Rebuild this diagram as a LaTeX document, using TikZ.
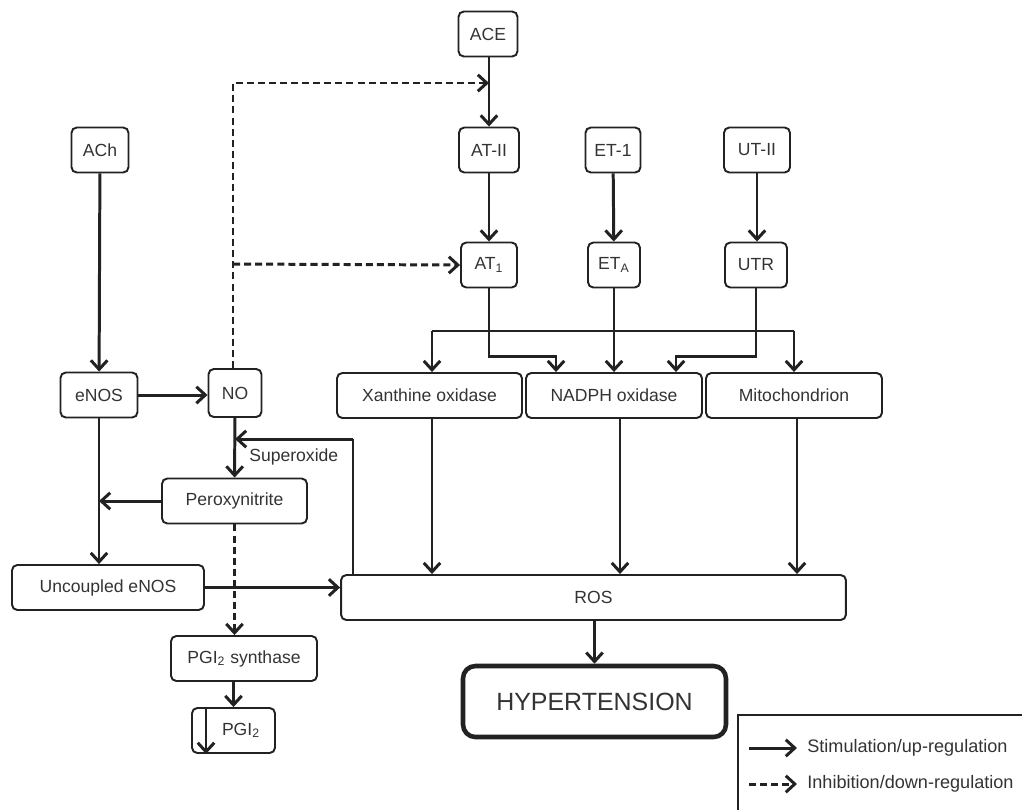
\documentclass[tikz,border=0pt]{standalone}
\usepackage{fontspec}
\setmainfont{Liberation Sans}
\usetikzlibrary{arrows.meta}
\definecolor{inkgray}{HTML}{222222}
\definecolor{txtgray}{HTML}{333333}
\tikzset{
  box/.style={draw=inkgray, rounded corners=3pt, line width=1.1pt, minimum height=0.9cm, inner sep=0pt, font=\fontsize{10}{12}\selectfont, text=txtgray},
  hyp/.style={box, line width=2.6pt, rounded corners=7pt, minimum height=1.42cm, font=\fontsize{14.2}{16}\selectfont},
  stim/.style={-{Straight Barb[length=1.8mm,width=3.3mm]}, draw=inkgray, line width=1.7pt},
  inhib/.style={stim, dash pattern=on 4pt off 2.3pt},
  wire/.style={draw=inkgray, line width=1.5pt},
  lbl/.style={font=\fontsize{10}{12}\selectfont, text=txtgray, inner sep=0pt},
  key/.style={font=\fontsize{10.3}{12}\selectfont, text=txtgray, inner sep=0pt, anchor=west},
  keyframe/.style={draw=inkgray, line width=0.9pt},
}

\begin{document}
\begin{tikzpicture}[x=0.02cm,y=-0.02cm]
  \useasboundingbox (0,0) rectangle (1022,809);
  % receptor agonists
  \node[box, minimum width=1.18cm] (ACE) at (488,34) {ACE};
  \node[box, minimum width=1.14cm] (ACh) at (100,150) {ACh};
  \node[box, minimum width=1.20cm] (ATII) at (489,150) {AT-II};
  \node[box, minimum width=1.10cm] (ET1) at (613,150) {ET-1};
  \node[box, minimum width=1.32cm] (UTII) at (757,150) {UT-II};
  % receptors
  \node[box, minimum width=1.12cm] (AT1) at (489,265) {AT\textsubscript{1}};
  \node[box, minimum width=1.04cm] (ETA) at (614,265) {ET\textsubscript{A}};
  \node[box, minimum width=1.24cm] (UTR) at (756,265) {UTR};
  % sources
  \node[box, minimum width=1.54cm] (eNOS) at (99,395) {eNOS};
  \node[box, minimum width=1.06cm, minimum height=0.96cm] (NO) at (235,393) {NO};
  \node[box, minimum width=3.70cm] (XO) at (429.5,395.5) {Xanthine oxidase};
  \node[box, minimum width=3.52cm] (NADPH) at (614,395.5) {NADPH oxidase};
  \node[box, minimum width=3.52cm] (Mito) at (794,395.5) {Mitochondrion};
  \node[box, minimum width=2.90cm] (Perox) at (234.5,501) {Peroxynitrite};
  \node[box, minimum width=3.84cm] (Unc) at (108,587.5) {Uncoupled eNOS};
  \node[box, minimum width=10.10cm] (ROS) at (593.5,597.5) {ROS};
  \node[box, minimum width=2.92cm] (PGS) at (244,658.5) {PGI\textsubscript{2} synthase};
  \node[box, minimum width=1.66cm] (PGI) at (233.5,730.5) {\hspace*{3mm}PGI\textsubscript{2}};
  \node[hyp, minimum width=5.26cm] (HYP) at (594.5,701.5) {HYPERTENSION};
  \node[lbl, anchor=west] (supox) at (249,457) {Superoxide};

  % joints
  \coordinate (acejoin) at (489,83);
  \coordinate (nojoin) at (233,264);
  \coordinate (supjoin) at (235,439);
  \coordinate (fbk) at (353,439);
  \coordinate (busL) at (432,331);
  \coordinate (busR) at (794,331);
  \coordinate (atbend) at (556,356);
  \coordinate (utbend) at (676,356);
  \coordinate (pgx) at (206,0);

  % stimulation
  \draw[stim] (ACE.south -| ATII) -- (ATII.north);
  \draw[stim] (ATII) -- (AT1);
  \draw[stim] (ET1) -- (ETA);
  \draw[stim] (UTII.south) -- (UTII.south |- UTR.north);
  \draw[stim] (ACh) -- (eNOS);
  \draw[stim] (eNOS.east) -- (eNOS.east -| NO.west);
  \draw[stim] (AT1.south) |- (atbend) -- (atbend |- NADPH.north);
  \draw[stim] (ETA) -- (NADPH.north -| ETA);
  \draw[stim] (UTR.south) |- (utbend) -- (utbend |- NADPH.north);
  \draw[wire] (busL) -- (busR);
  \draw[stim] (busL) -- (busL |- XO.north);
  \draw[stim] (busR) -- (busR |- Mito.north);
  \draw[stim] (XO.south -| busL) -- (ROS.north -| busL);
  \draw[stim] ([xshift=0.12cm]NADPH.south) -- ([xshift=0.12cm]NADPH.south |- ROS.north);
  \draw[stim] ([xshift=0.06cm]Mito.south) -- ([xshift=0.06cm]Mito.south |- ROS.north);
  \draw[stim] (ROS.south -| HYP) -- (HYP.north);
  \draw[stim] (NO) -- (Perox);
  \draw[wire] (fbk |- ROS.north) -- (fbk);
  \draw[stim] (fbk) -- (supjoin);
  \draw[stim] (Perox.west) -- (Perox.west -| eNOS);
  \draw[stim] (eNOS.south) -- (eNOS.south |- Unc.north);
  \draw[stim] (Unc.east) -- (Unc.east -| ROS.west);
  \draw[stim] (PGS.south -| PGI) -- (PGI.north);
  \draw[stim] (pgx |- PGI.north) -- (pgx |- PGI.south);

  % inhibition
  \draw[inhib] (NO.north -| nojoin) |- (acejoin);
  \draw[inhib] (nojoin) -- (AT1.west);
  \draw[inhib] (Perox.south) -- (Perox.south |- PGS.north);

  % key
  \draw[keyframe] (738,715) rectangle (1040,830);
  \node[key] (kstim) at (807,748) {Stimulation/up-regulation};
  \node[key] (kinhib) at (807,784) {Inhibition/down-regulation};
  \draw[stim] ([xshift=-1.16cm]kstim.west) -- ([xshift=-0.2cm]kstim.west);
  \draw[inhib] ([xshift=-1.16cm]kinhib.west) -- ([xshift=-0.2cm]kinhib.west);
\end{tikzpicture}
\end{document}
